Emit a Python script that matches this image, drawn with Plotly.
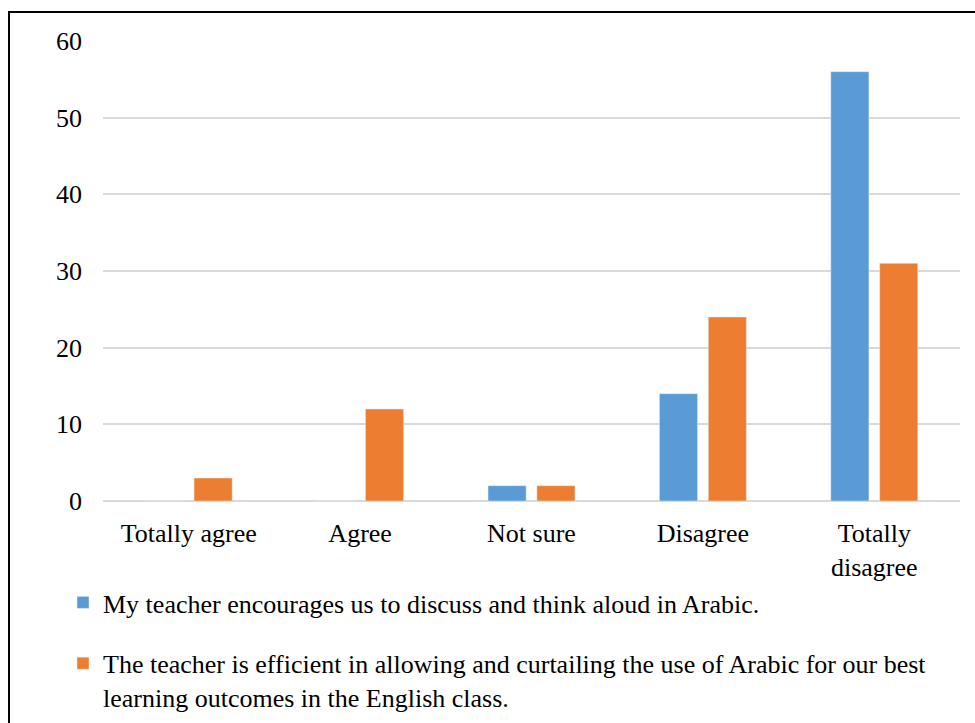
import plotly.graph_objects as go

categories = ["Totally agree", "Agree", "Not sure", "Disagree", "Totally<br>disagree"]
series1_name = "My teacher encourages us to discuss and think aloud in Arabic."
series1_values = [0, 0, 2, 14, 56]
series2_name = ("The teacher is efficient in allowing and curtailing the use of Arabic for our best"
                "<br>learning outcomes in the English class.")
series2_values = [3, 12, 2, 24, 31]
y_ticks = [0, 10, 20, 30, 40, 50, 60]

W, H = 975, 723
ML, MR, MT, MB = 103, 15, 41, 222
PW, PH = W - ML - MR, H - MT - MB

FONT = "Liberation Serif, Times New Roman, serif"

fig = go.Figure()
fig.add_trace(go.Bar(x=categories, y=series1_values, name=series1_name,
                     marker_color="#5B9BD5", legendgroup="a"))
fig.add_trace(go.Bar(x=categories, y=series2_values, name=series2_name,
                     marker_color="#ED7D31", legendgroup="b"))

def px_x(p):
    return (p - ML) / PW

def px_y(p):
    return (H - MB - p) / PH

fig.add_shape(type="rect", xref="paper", yref="paper",
              x0=px_x(9), x1=px_x(W + 10), y0=px_y(12), y1=px_y(H + 10),
              line=dict(color="black", width=2), fillcolor="rgba(0,0,0,0)", layer="above")

fig.update_layout(
    width=W, height=H,
    margin=dict(l=ML, r=MR, t=MT, b=MB, autoexpand=False),
    paper_bgcolor="white", plot_bgcolor="white",
    font=dict(family=FONT, size=26, color="black"),
    barmode="group", bargap=0.43, bargroupgap=0.22,
    showlegend=True,
    legend=dict(orientation="v", xref="container", yref="container",
                x=63 / W, xanchor="left", y=1 - 579 / H, yanchor="top",
                traceorder="grouped", tracegroupgap=24, valign="top", font=dict(size=26),
                bgcolor="rgba(0,0,0,0)"),
    xaxis=dict(showgrid=False, showline=False, ticks="", ticklabelstandoff=14,
               tickfont=dict(size=26)),
    yaxis=dict(range=[0, 60], tickvals=y_ticks, showgrid=True, gridcolor="#D9D9D9",
               gridwidth=1.5, zeroline=True, zerolinecolor="#D9D9D9", zerolinewidth=1.5,
               showline=False, ticks="", ticklabelstandoff=20, tickfont=dict(size=26)),
)

fig.write_html("out.html")
